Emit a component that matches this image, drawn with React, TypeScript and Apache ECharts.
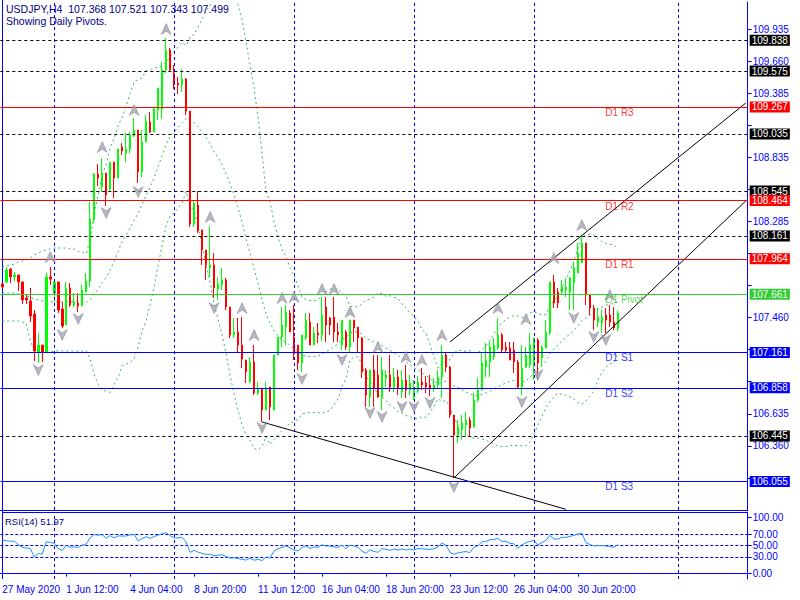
import React, { useEffect, useRef } from 'react';
import * as echarts from 'echarts';

// ---------- data ----------
const tickLabels = ['27 May 2020', '1 Jun 12:00', '4 Jun 04:00', '8 Jun 20:00', '11 Jun 12:00', '16 Jun 04:00', '18 Jun 20:00', '23 Jun 12:00', '26 Jun 04:00', '30 Jun 20:00'];
const barCount = 187; // visible slots incl. empty right margin

// [open, close, low, high]
const candles: number[][] = [
  [107.749, 107.723, 107.714, 107.757], [107.766, 107.869, 107.757, 107.894], [107.877, 107.809, 107.757, 107.886], [107.809, 107.826, 107.774, 107.851],
  [107.826, 107.766, 107.689, 107.826], [107.766, 107.611, 107.577, 107.766], [107.629, 107.611, 107.577, 107.663], [107.602, 107.474, 107.422, 107.714],
  [107.491, 107.174, 107.088, 107.525], [107.165, 107.225, 107.071, 107.328], [107.225, 107.165, 107.079, 107.225], [107.165, 107.809, 107.165, 107.843],
  [107.809, 107.791, 107.740, 107.894], [107.671, 107.766, 107.594, 107.766], [107.766, 107.525, 107.500, 107.766], [107.534, 107.388, 107.371, 107.594],
  [107.397, 107.714, 107.397, 107.766], [107.714, 107.568, 107.551, 107.757], [107.568, 107.594, 107.551, 107.671], [107.585, 107.560, 107.508, 107.671],
  [107.560, 107.697, 107.560, 107.740], [107.680, 107.774, 107.680, 107.843], [107.774, 108.306, 107.723, 108.452], [108.297, 108.691, 108.272, 108.700],
  [108.691, 108.657, 108.588, 108.777], [108.580, 108.700, 108.537, 108.829], [108.700, 108.511, 108.418, 108.700], [108.563, 108.794, 108.546, 108.794],
  [108.794, 108.657, 108.486, 108.794], [108.657, 108.906, 108.657, 108.906], [108.923, 108.889, 108.854, 108.957], [108.871, 108.906, 108.794, 109.043],
  [108.906, 109.026, 108.871, 109.052], [109.017, 109.069, 109.009, 109.172], [109.069, 108.708, 108.614, 109.069], [108.708, 108.966, 108.666, 109.069],
  [108.966, 109.146, 108.966, 109.197], [109.137, 109.052, 109.043, 109.223], [109.052, 109.249, 109.052, 109.266], [109.240, 109.429, 109.154, 109.429],
  [109.249, 109.584, 109.163, 109.652], [109.584, 109.755, 109.558, 109.858], [109.755, 109.584, 109.566, 109.772], [109.558, 109.455, 109.421, 109.627],
  [109.472, 109.455, 109.378, 109.524], [109.455, 109.506, 109.395, 109.592], [109.506, 109.232, 109.197, 109.515], [109.232, 108.263, 108.237, 109.232],
  [108.263, 108.443, 108.237, 108.469], [108.426, 108.203, 108.186, 108.546], [108.212, 108.040, 107.912, 108.212], [108.040, 107.912, 107.783, 108.040],
  [107.886, 107.912, 107.809, 108.246], [107.912, 107.714, 107.629, 108.014], [107.706, 107.749, 107.611, 107.809], [107.740, 107.783, 107.697, 107.886],
  [107.783, 107.551, 107.525, 107.800], [107.551, 107.311, 107.285, 107.551], [107.311, 107.337, 107.285, 107.457], [107.337, 107.225, 107.156, 107.457],
  [107.225, 107.105, 107.028, 107.465], [107.096, 106.993, 106.899, 107.096], [106.908, 107.079, 106.899, 107.122], [107.079, 106.813, 106.796, 107.225],
  [106.813, 106.856, 106.796, 106.908], [106.856, 106.668, 106.565, 106.856], [106.668, 106.856, 106.668, 106.908], [106.865, 106.694, 106.582, 106.865],
  [106.668, 107.139, 106.668, 107.139], [107.139, 107.294, 107.139, 107.294], [107.294, 107.397, 107.208, 107.551], [107.379, 107.508, 107.225, 107.568],
  [107.500, 107.337, 107.337, 107.525], [107.294, 107.156, 107.096, 107.568], [107.225, 107.071, 107.011, 107.225], [107.071, 107.311, 106.993, 107.311],
  [107.285, 107.439, 107.268, 107.500], [107.422, 107.225, 107.225, 107.500], [107.225, 107.328, 107.225, 107.379], [107.328, 107.311, 107.242, 107.414],
  [107.311, 107.482, 107.259, 107.637], [107.551, 107.397, 107.251, 107.637], [107.457, 107.397, 107.311, 107.465], [107.465, 107.337, 107.251, 107.637],
  [107.337, 107.311, 107.251, 107.414], [107.225, 107.439, 107.182, 107.439], [107.337, 107.208, 107.182, 107.354], [107.208, 107.439, 107.165, 107.439],
  [107.439, 107.371, 107.251, 107.439], [107.379, 107.285, 107.165, 107.379], [107.285, 106.993, 106.942, 107.294], [107.011, 106.796, 106.694, 107.028],
  [106.779, 107.011, 106.694, 107.011], [107.011, 106.856, 106.694, 107.139], [106.968, 106.779, 106.771, 107.139], [106.779, 107.011, 106.668, 107.122],
  [106.942, 106.968, 106.865, 107.011], [106.968, 106.865, 106.822, 107.139], [106.865, 106.951, 106.822, 107.028], [106.951, 106.856, 106.796, 107.011],
  [106.822, 106.925, 106.771, 107.011], [106.925, 106.839, 106.771, 107.054], [106.839, 106.899, 106.796, 106.968], [106.771, 106.831, 106.754, 106.925],
  [106.831, 106.908, 106.813, 106.959], [106.908, 106.882, 106.839, 107.028], [106.899, 106.865, 106.813, 106.959], [106.882, 106.856, 106.788, 106.968],
  [106.856, 106.882, 106.822, 106.942], [106.882, 106.951, 106.856, 107.011], [106.951, 107.139, 106.771, 107.225], [107.139, 107.036, 106.993, 107.165],
  [107.036, 106.625, 106.600, 107.045], [106.625, 106.454, 106.085, 106.625], [106.454, 106.522, 106.385, 106.582], [106.497, 106.557, 106.411, 106.625],
  [106.540, 106.582, 106.437, 106.651], [106.582, 106.514, 106.437, 106.608], [106.522, 106.754, 106.514, 106.813], [106.754, 106.839, 106.737, 106.942],
  [106.839, 107.071, 106.839, 107.156], [107.036, 107.096, 106.951, 107.242], [107.079, 107.208, 106.951, 107.251], [107.122, 107.225, 107.096, 107.285],
  [107.199, 107.311, 107.182, 107.457], [107.311, 107.182, 107.156, 107.328], [107.208, 107.182, 107.156, 107.251], [107.199, 107.096, 107.096, 107.251],
  [107.182, 107.079, 106.985, 107.251], [107.079, 106.865, 106.856, 107.096], [106.865, 107.028, 106.796, 107.225], [107.036, 107.139, 107.028, 107.208],
  [107.054, 107.225, 107.028, 107.328], [107.071, 107.285, 106.925, 107.285], [107.268, 107.071, 106.925, 107.285], [107.114, 107.208, 107.036, 107.225],
  [107.199, 107.337, 107.199, 107.439], [107.328, 107.766, 107.311, 107.766], [107.766, 107.585, 107.542, 107.826], [107.680, 107.585, 107.542, 107.714],
  [107.680, 107.723, 107.654, 107.783], [107.697, 107.723, 107.637, 107.800], [107.680, 107.800, 107.525, 107.809], [107.757, 107.886, 107.525, 107.937],
  [107.843, 108.014, 107.843, 108.100], [107.929, 108.100, 107.929, 108.169], [108.100, 107.654, 107.568, 108.100], [107.654, 107.542, 107.482, 107.654],
  [107.542, 107.439, 107.354, 107.568], [107.422, 107.465, 107.379, 107.542], [107.414, 107.465, 107.328, 107.525], [107.482, 107.439, 107.328, 107.542],
  [107.482, 107.422, 107.379, 107.568], [107.422, 107.371, 107.354, 107.551], [107.368, 107.499, 107.343, 107.521],
];

// Bollinger band values read for the first bars (before 20 closes exist)
const bbUpperWarm = [107.894, 107.903, 107.912, 107.920, 107.937, 107.946, 107.954, 107.972, 107.997, 108.014, 108.032, 108.040, 108.049, 108.057, 108.057, 108.057, 108.057, 108.049, 108.049];
const bbMidWarm = [107.671, 107.671, 107.671, 107.671, 107.663, 107.654, 107.646, 107.637, 107.620, 107.611, 107.602, 107.594, 107.594, 107.594, 107.594, 107.594, 107.594, 107.594, 107.602];
const bbLowerWarm = [107.431, 107.431, 107.431, 107.431, 107.431, 107.422, 107.414, 107.260, 107.182, 107.174, 107.165, 107.165, 107.165, 107.174, 107.174, 107.174, 107.174, 107.174, 107.174];
// RSI values read for the first bars
const rsiWarm = [60, 59, 58, 58, 52, 47, 46, 45, 30, 36, 35, 57, 56, 54];

const fractalUp: number[][] = [
  [12, 107.980], [25, 108.923], [33, 109.240], [41, 109.935], [52, 108.323], [60, 107.542], [63, 107.311], [70, 107.629], [73, 107.637],
  [80, 107.706], [83, 107.706], [87, 107.508], [94, 107.208], [101, 107.122], [105, 107.096], [110, 107.311], [124, 107.542], [131, 107.448],
  [138, 107.972], [145, 108.254], [152, 107.654],
];
const fractalDown: number[][] = [
  [9, 107.011], [15, 107.311], [19, 107.448], [26, 108.357], [34, 108.537], [53, 107.542], [65, 106.514], [75, 106.933], [85, 107.096],
  [92, 106.642], [95, 106.608], [100, 106.694], [103, 106.694], [107, 106.728], [113, 106.007], [130, 106.737], [134, 106.968],
  [143, 107.457], [148, 107.294], [151, 107.268],
];

const dashedLevels = [109.838, 109.575, 109.035, 108.545, 108.161, 106.445];
const pivotNames = ['D1 R3', 'D1 R2', 'D1 R1', 'D1 Pivot', 'D1 S1', 'D1 S2', 'D1 S3'];
const pivotLevels = [109.267, 108.464, 107.964, 107.661, 107.161, 106.858, 106.055];
const pivotColors = ['#ff0000', '#ff0000', '#ff0000', '#32cd32', '#0000ff', '#0000ff', '#0000ff'];
const pivotLabelBar = 151;

const trendLines: number[][][] = [
  [[65, 106.565], [141, 105.816]],
  [[112, 107.251], [186, 109.300]],
  [[113, 106.085], [186, 108.460]],
];
const weekLines = [13, 43, 73, 103, 133, 169];
const rsiLevels = [30, 50, 70];
const rsiTicks = [0, 30, 50, 70, 100];

const titleLine = 'USDJPY,H4  107.368 107.521 107.343 107.499';
const subTitle = 'Showing Daily Pivots.';
const rsiTitle = 'RSI(14) 51.97';

// ---------- derived indicator lines ----------
const closes = candles.map((c) => c[1]);
const bbUpper: (number | null)[] = [];
const bbMid: (number | null)[] = [];
const bbLower: (number | null)[] = [];
closes.forEach((_, i) => {
  if (i < 19) {
    bbUpper.push(bbUpperWarm[i]);
    bbMid.push(bbMidWarm[i]);
    bbLower.push(bbLowerWarm[i]);
  } else {
    const w = closes.slice(i - 19, i + 1);
    const m = w.reduce((a, b) => a + b, 0) / 20;
    const sd = Math.sqrt(w.reduce((a, b) => a + (b - m) * (b - m), 0) / 20);
    bbUpper.push(m + 2 * sd);
    bbMid.push(m);
    bbLower.push(m - 2 * sd);
  }
});
const rsi: number[] = [];
{
  let ag = 0;
  let al = 0;
  closes.forEach((c, i) => {
    if (i === 0) { rsi.push(rsiWarm[0]); return; }
    const d = c - closes[i - 1];
    const g = d > 0 ? d : 0;
    const l = d < 0 ? -d : 0;
    if (i <= 14) {
      ag += g / 14;
      al += l / 14;
      if (i < 14) { rsi.push(rsiWarm[i]); return; }
    } else {
      ag = (ag * 13 + g) / 14;
      al = (al * 13 + l) / 14;
    }
    rsi.push(al === 0 ? 100 : 100 - 100 / (1 + ag / al));
  });
}

const cats = Array.from({ length: barCount }, (_, i) => String(i));
const FONT = 'Liberation Sans, Arial, sans-serif';
const BLUE = '#0000ff';
const boxedLevels = [...dashedLevels, ...pivotLevels];

export default function App() {
  const ref = useRef<HTMLDivElement>(null);
  useEffect(() => {
    if (!ref.current) return;
    const chart = echarts.init(ref.current, undefined, { renderer: 'svg' });

    const levelLines: any[] = [];
    dashedLevels.forEach((v) => levelLines.push({
      yAxis: v,
      lineStyle: { color: '#000000', type: [3, 3], width: 1 },
      label: { backgroundColor: '#000000', color: '#ffffff' },
    }));
    pivotLevels.forEach((v, k) => levelLines.push({
      yAxis: v,
      lineStyle: { color: pivotColors[k], type: 'solid', width: 1 },
      label: { backgroundColor: pivotColors[k], color: '#ffffff' },
    }));
    weekLines.forEach((x) => levelLines.push({
      xAxis: x,
      lineStyle: { color: BLUE, type: [3, 3], width: 1 },
      label: { show: false },
    }));

    const rsiLines: any[] = rsiLevels.map((v) => ({ yAxis: v, lineStyle: { color: BLUE, type: [3, 2], width: 1 } }));
    weekLines.forEach((x) => rsiLines.push({ xAxis: x, lineStyle: { color: BLUE, type: [3, 3], width: 1 } }));

    const tickShown = (i: number) => i % 16 === 0 && i / 16 < tickLabels.length;

    const option: any = {
      animation: false,
      backgroundColor: '#ffffff',
      textStyle: { fontFamily: FONT },
      grid: [
        { left: 0.3, right: 52.3, top: 2, height: 508, outerBoundsMode: 'none' },
        { left: 0.3, right: 52.3, top: 512, height: 67, outerBoundsMode: 'none' },
      ],
      xAxis: [
        {
          type: 'category', gridIndex: 0, data: cats, boundaryGap: true,
          axisLine: { show: true, lineStyle: { color: BLUE } }, axisTick: { show: false }, axisLabel: { show: false }, splitLine: { show: false },
        },
        {
          type: 'category', gridIndex: 1, data: cats, boundaryGap: true,
          axisLine: { show: true, lineStyle: { color: BLUE } },
          axisTick: { show: true, length: 3, alignWithLabel: true, interval: (i: number) => tickShown(i), lineStyle: { color: BLUE } },
          axisLabel: {
            interval: (i: number) => tickShown(i), align: 'left', color: BLUE, fontSize: 10, margin: 5, fontFamily: FONT,
            formatter: (v: string) => { const i = Number(v); return tickShown(i) ? tickLabels[i / 16] : ''; },
          },
          splitLine: { show: false },
        },
      ],
      yAxis: [
        {
          type: 'value', gridIndex: 0, position: 'right', min: 105.81, max: 110.167, interval: 0.275, scale: true,
          axisLine: { show: true, lineStyle: { color: BLUE } },
          axisTick: { show: true, length: 4, lineStyle: { color: BLUE } },
          axisLabel: {
            color: BLUE, fontSize: 10, margin: 5, showMinLabel: false, showMaxLabel: false, fontFamily: FONT,
            formatter: (v: number) => (v > 110.1 || boxedLevels.some((l) => Math.abs(l - v) < 0.08) ? '' : v.toFixed(3)),
          },
          splitLine: { show: false },
        },
        {
          type: 'value', gridIndex: 1, position: 'right', min: -9.5, max: 110.2,
          axisLine: { show: true, lineStyle: { color: BLUE } },
          axisTick: { show: true, length: 4, customValues: rsiTicks, lineStyle: { color: BLUE } },
          axisLabel: { color: BLUE, fontSize: 10, margin: 5, customValues: rsiTicks, fontFamily: FONT, formatter: (v: number) => v.toFixed(2) },
          splitLine: { show: false },
        },
      ],
      series: [
        {
          name: 'levels', type: 'line', xAxisIndex: 0, yAxisIndex: 0, data: cats.map(() => '-'), symbol: 'none', silent: true, z: 1, clip: false,
          markLine: {
            silent: true, symbol: ['none', 'none'], animation: false, precision: 3,
            label: {
              show: true, position: 'end', distance: 2, fontSize: 10, lineHeight: 11, fontFamily: FONT, padding: [0, 2, 0, 2],
              formatter: (p: any) => Number(p.value).toFixed(3),
            },
            data: levelLines,
          },
        },
        {
          name: 'bbUpper', type: 'line', xAxisIndex: 0, yAxisIndex: 0, data: bbUpper, symbol: 'none', z: 2, silent: true,
          lineStyle: { color: '#3cb371', width: 1, type: [2, 3] },
        },
        {
          name: 'bbMid', type: 'line', xAxisIndex: 0, yAxisIndex: 0, data: bbMid, symbol: 'none', z: 2, silent: true,
          lineStyle: { color: '#3cb371', width: 1, type: [2, 3] },
        },
        {
          name: 'bbLower', type: 'line', xAxisIndex: 0, yAxisIndex: 0, data: bbLower, symbol: 'none', z: 2, silent: true,
          lineStyle: { color: '#3cb371', width: 1, type: [2, 3] },
        },
        {
          name: 'USDJPY', type: 'candlestick', xAxisIndex: 0, yAxisIndex: 0, data: candles, barWidth: 2, z: 3,
          itemStyle: { color: '#00ff00', color0: '#ff0000', borderColor: '#00ff00', borderColor0: '#ff0000', borderColorDoji: '#00ff00', borderWidth: 1 },
        },
        ...trendLines.map((t, k) => ({
          name: 'trend' + k, type: 'line', xAxisIndex: 0, yAxisIndex: 0, data: t, symbol: 'none', z: 4, silent: true,
          lineStyle: { color: '#000000', width: 1 },
        })),
        {
          name: 'fractalUp', type: 'scatter', xAxisIndex: 0, yAxisIndex: 0, data: fractalUp, z: 5, silent: true,
          symbol: 'path://M5,0L10,10L5,7L0,10Z', symbolSize: [10, 11],
          itemStyle: { color: '#a4a4b2', borderColor: '#6e6e80', borderWidth: 0.5 },
        },
        {
          name: 'fractalDown', type: 'scatter', xAxisIndex: 0, yAxisIndex: 0, data: fractalDown, z: 5, silent: true,
          symbol: 'path://M0,0L5,3L10,0L5,10Z', symbolSize: [10, 11],
          itemStyle: { color: '#a4a4b2', borderColor: '#6e6e80', borderWidth: 0.5 },
        },
        {
          name: 'pivotNames', type: 'scatter', xAxisIndex: 0, yAxisIndex: 0, z: 6, silent: true, symbolSize: 1,
          itemStyle: { color: 'rgba(0,0,0,0)' },
          data: pivotLevels.map((v, k) => ({
            value: [pivotLabelBar, v],
            label: { show: true, formatter: pivotNames[k], color: pivotColors[k] },
          })),
          label: { show: true, position: [0, 1], align: 'left', verticalAlign: 'top', fontSize: 10, fontFamily: FONT },
        },
        {
          name: 'RSI', type: 'line', xAxisIndex: 1, yAxisIndex: 1, data: rsi, symbol: 'none', z: 3, silent: true,
          lineStyle: { color: '#1e90ff', width: 1 },
          markLine: {
            silent: true, symbol: ['none', 'none'], animation: false, label: { show: false }, z: 1,
            data: rsiLines,
          },
        },
      ],
      graphic: [
        { type: 'line', shape: { x1: 2.5, y1: 0, x2: 2.5, y2: 579 }, style: { stroke: BLUE, lineWidth: 1 }, silent: true },
        { type: 'line', shape: { x1: 2.5, y1: 512.5, x2: 747.5, y2: 512.5 }, style: { stroke: BLUE, lineWidth: 1 }, silent: true },
        { type: 'text', left: 6, top: 3, style: { text: titleLine, fill: '#000080', font: '10.5px ' + FONT } },
        { type: 'text', left: 6, top: 15, style: { text: subTitle, fill: '#000080', font: '10.5px ' + FONT } },
        { type: 'text', left: 5, top: 516, style: { text: rsiTitle, fill: '#000080', font: '9.5px ' + FONT } },
      ],
    };
    chart.setOption(option);
    return () => chart.dispose();
  }, []);
  return <div ref={ref} style={{ width: 800, height: 600, position: 'absolute', left: 0, top: 0, background: '#fff' }} />;
}
